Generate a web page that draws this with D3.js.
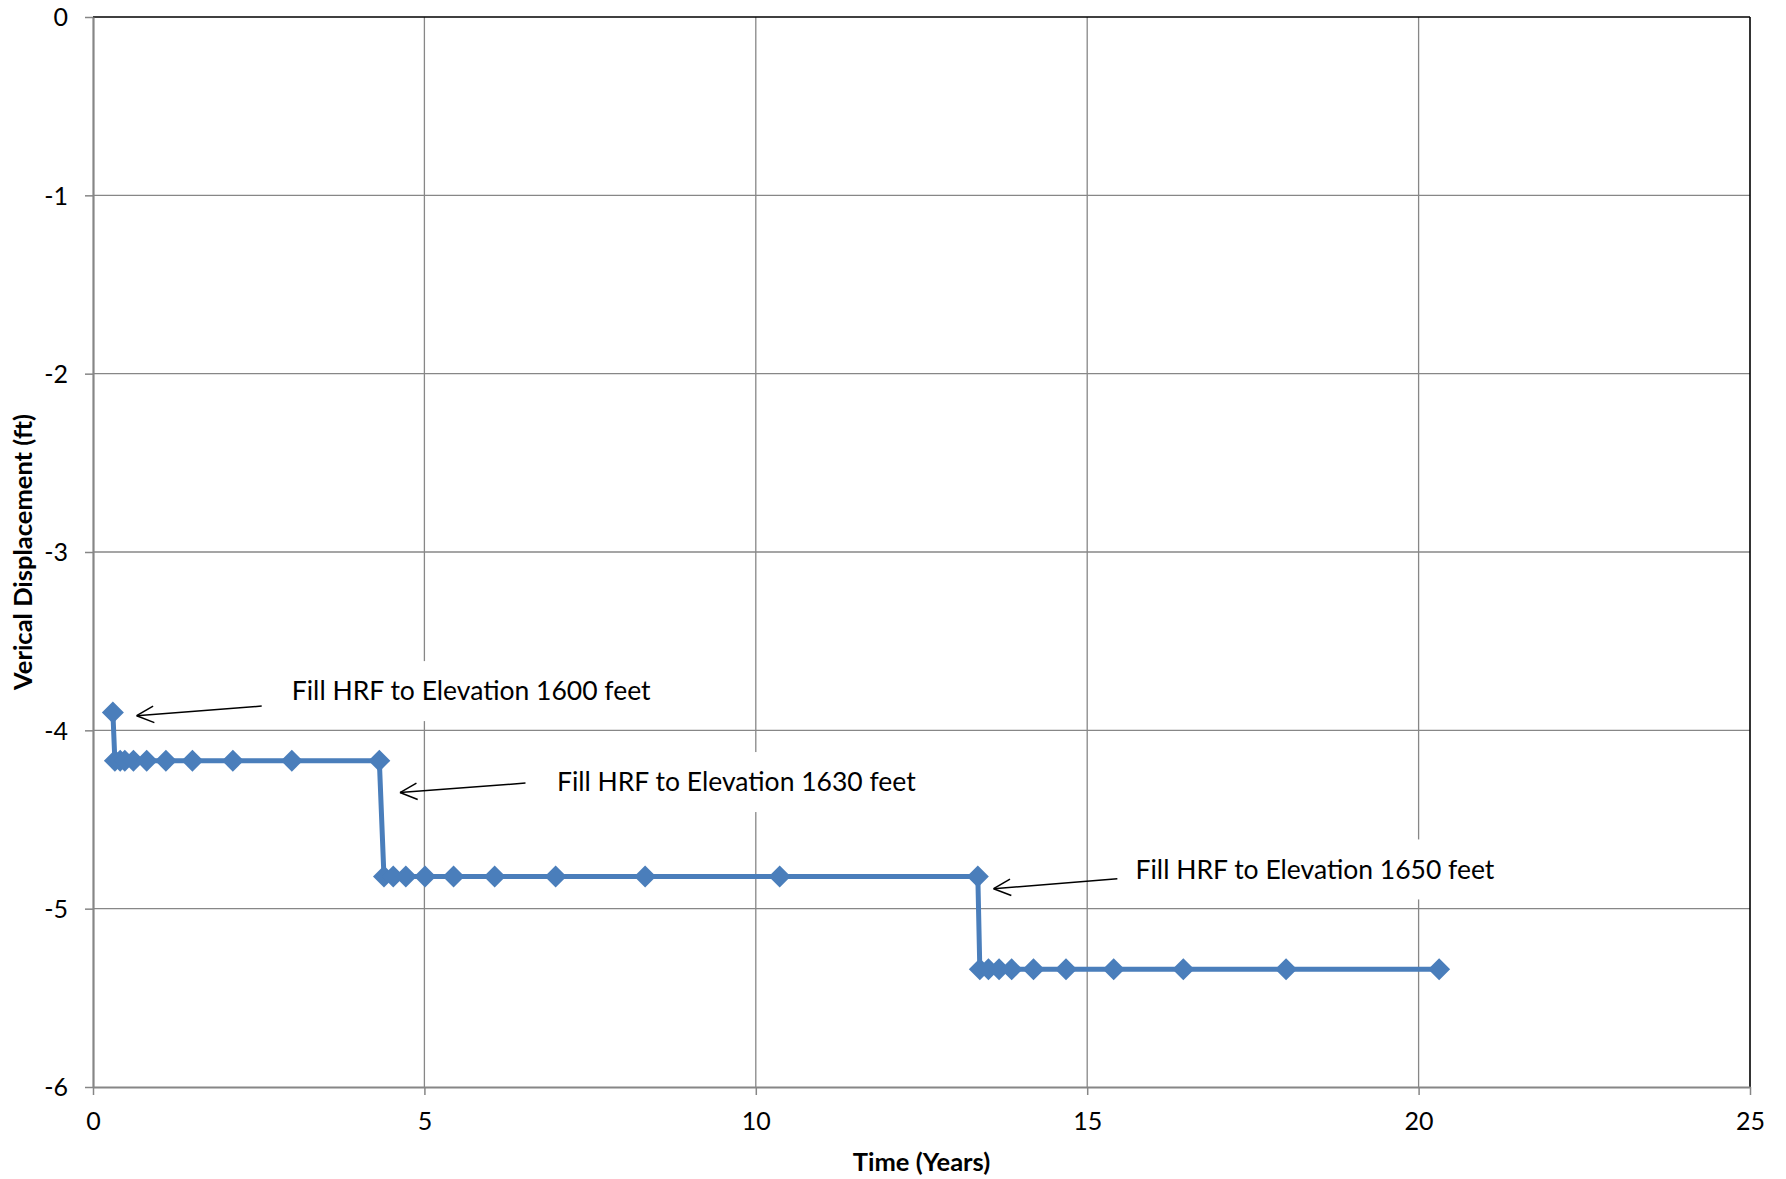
<!DOCTYPE html>
<html><head><meta charset="utf-8">
<script src="https://cdn.jsdelivr.net/npm/d3@7"></script>
<style>body{margin:0;background:#fff}svg{display:block}text{font-family:Lato,"Open Sans",sans-serif}</style>
</head><body>
<script>
// Data (years, feet)
const timeYears = [0.30, 0.33, 0.41, 0.48, 0.61, 0.81, 1.10, 1.50, 2.11, 3.00, 4.32,
  4.39, 4.53, 4.72, 5.01, 5.44, 6.06, 6.98, 8.33, 10.36, 13.35,
  13.38, 13.51, 13.67, 13.86, 14.19, 14.68, 15.40, 16.45, 18.00, 20.31];
const displacement = [-3.90, -4.17, -4.17, -4.17, -4.17, -4.17, -4.17, -4.17, -4.17, -4.17, -4.17,
  -4.82, -4.82, -4.82, -4.82, -4.82, -4.82, -4.82, -4.82, -4.82, -4.82,
  -5.34, -5.34, -5.34, -5.34, -5.34, -5.34, -5.34, -5.34, -5.34, -5.34];
const xTicks = [0, 5, 10, 15, 20, 25];
const yTicks = [0, -1, -2, -3, -4, -5, -6];
const annoText = ["Fill HRF to Elevation 1600 feet", "Fill HRF to Elevation 1630 feet", "Fill HRF to Elevation 1650 feet"];
const annoTextX = [3.0, 7.0, 15.73];
const annoTextY = [-3.78, -4.29, -4.78];
const arrowFromX = [2.545, 6.525, 15.455];
const arrowFromY = [-3.864, -4.296, -4.832];
const arrowToX = [0.659, 4.632, 13.588];
const arrowToY = [-3.918, -4.349, -4.888];

const W = 1786, H = 1179;
const m = {l: 93, r: 1750, t: 17, b: 1087};
const svg = d3.select("body").append("svg").attr("width", W).attr("height", H);
const x = d3.scaleLinear().domain([0, 25]).range([m.l, m.r]);
const y = d3.scaleLinear().domain([-6, 0]).range([m.b, m.t]);

// gridlines
const g = svg.append("g");
g.selectAll(".vg").data(xTicks.filter(d => d > 0 && d < 25)).enter().append("line")
  .attr("x1", d => x(d)).attr("x2", d => x(d)).attr("y1", m.t).attr("y2", m.b)
  .attr("stroke", "#878787").attr("stroke-width", 1.3);
g.selectAll(".hg").data(yTicks.filter(d => d < 0 && d > -6)).enter().append("line")
  .attr("y1", d => y(d)).attr("y2", d => y(d)).attr("x1", m.l).attr("x2", m.r)
  .attr("stroke", "#878787").attr("stroke-width", 1.3);

// border top/right black
svg.append("line").attr("x1", m.l).attr("x2", m.r).attr("y1", m.t).attr("y2", m.t).attr("stroke", "#000").attr("stroke-width", 1.6);
svg.append("line").attr("x1", m.r).attr("x2", m.r).attr("y1", m.t).attr("y2", m.b).attr("stroke", "#000").attr("stroke-width", 1.6);

// axes
const xAxis = svg.append("g").attr("transform", `translate(0,${m.b})`)
  .call(d3.axisBottom(x).tickValues(xTicks).tickSizeInner(8).tickSizeOuter(0).tickPadding(17));
const yAxis = svg.append("g").attr("transform", `translate(${m.l},0)`)
  .call(d3.axisLeft(y).tickValues(yTicks).tickSizeInner(8).tickSizeOuter(0).tickPadding(17).tickFormat(d => String(d)));
[xAxis, yAxis].forEach(a => {
  a.select(".domain").attr("stroke", "#868686").attr("stroke-width", 2.2);
  a.selectAll(".tick line").attr("stroke", "#868686").attr("stroke-width", 1.5);
  a.selectAll(".tick text").attr("font-size", 25).attr("fill", "#000").style("font-family", "Lato,sans-serif");
});
yAxis.selectAll(".tick text").attr("dy", "0.35em");

// annotation boxes (white, covering gridlines)
const annos = annoText.map((t, i) => ({t, x: annoTextX[i], y: annoTextY[i]}));
const ag = svg.append("g");
const texts = ag.selectAll("g.a").data(annos).enter().append("g");
texts.append("rect").attr("fill", "#fff");
texts.append("text").attr("x", d => x(d.x)).attr("y", d => y(d.y)).attr("dy", "0.35em")
  .attr("font-size", 26.5).attr("fill", "#000").text(d => d.t);
texts.each(function(d) {
  const tn = d3.select(this).select("text").node();
  const w = tn.getComputedTextLength();
  d3.select(this).select("rect").attr("x", x(d.x) - 12).attr("width", w + 24)
    .attr("y", y(d.y) - 30).attr("height", 60);
});

// data line
const pts = timeYears.map((t, i) => [t, displacement[i]]);
svg.append("path").datum(pts).attr("fill", "none").attr("stroke", "#4a7ebb").attr("stroke-width", 5)
  .attr("stroke-linejoin", "round")
  .attr("d", d3.line().x(d => x(d[0])).y(d => y(d[1])));
svg.selectAll(".mk").data(pts).enter().append("path")
  .attr("transform", d => `translate(${x(d[0])},${y(d[1])})`)
  .attr("d", "M0,-11L11,0L0,11L-11,0Z").attr("fill", "#4a7ebb");

// arrows
const arrows = arrowFromX.map((v, i) => ({x1: arrowFromX[i], y1: arrowFromY[i], x2: arrowToX[i], y2: arrowToY[i]}));
arrows.forEach(a => {
  const X1 = x(a.x1), Y1 = y(a.y1), X2 = x(a.x2), Y2 = y(a.y2);
  svg.append("line").attr("x1", X1).attr("y1", Y1).attr("x2", X2).attr("y2", Y2)
    .attr("stroke", "#000").attr("stroke-width", 1.5);
  const ang = Math.atan2(Y1 - Y2, X1 - X2);
  const L = 19, spread = 0.45;
  [ang + spread, ang - spread].forEach(b => {
    svg.append("line").attr("x1", X2).attr("y1", Y2)
      .attr("x2", X2 + L * Math.cos(b)).attr("y2", Y2 + L * Math.sin(b))
      .attr("stroke", "#000").attr("stroke-width", 1.5);
  });
});

// axis titles
svg.append("text").attr("x", (m.l + m.r) / 2).attr("y", 1162).attr("dy", "0.35em").attr("text-anchor", "middle")
  .attr("font-size", 25.5).attr("font-weight", "bold").text("Time (Years)");
svg.append("text").attr("transform", `translate(23,${(m.t + m.b) / 2}) rotate(-90)`).attr("dy", "0.35em")
  .attr("text-anchor", "middle").attr("font-size", 25.5).attr("font-weight", "bold").text("Verical Displacement (ft)");
</script>
</body></html>
